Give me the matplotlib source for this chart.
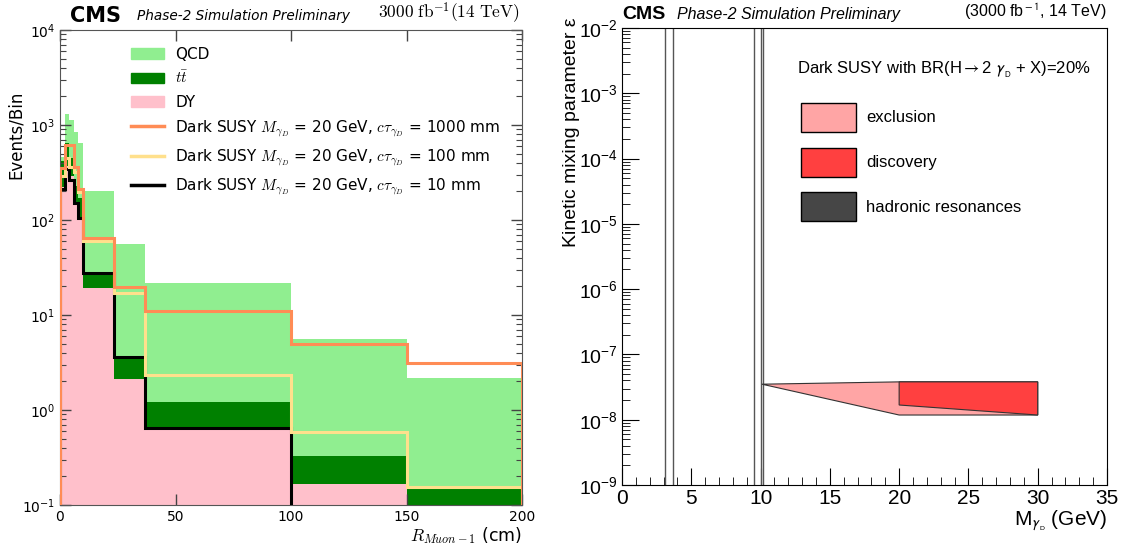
import numpy as np
import matplotlib
matplotlib.use("Agg")
import matplotlib.pyplot as plt
from matplotlib.patches import Patch
from matplotlib.lines import Line2D
from matplotlib.ticker import LogLocator, MultipleLocator, NullFormatter

# ---------------- data: left panel ----------------
edges = [0, 2, 4, 6, 8, 10, 23.5, 37, 100, 150, 200]
dy = [220, 370, 290, 150, 104, 19.1, 2.1, 0.64, 0.165, 0.0]
ttbar = [200, 270, 160, 80, 66, 8.4, 1.54, 0.58, 0.165, 0.15]
qcd = [40, 666, 679, 619, 471, 175.5, 52.3, 20.4, 5.22, 2.04]
sig_1000mm = [350, 615, 615, 364, 210, 64, 19.6, 11.0, 5.0, 3.1]
sig_100mm = [290, 450, 361, 320, 197, 60, 17.2, 2.33, 0.59, 0.155]
sig_10mm = [210, 342, 264, 150, 104, 27.5, 3.64, 0.64, 0, 0]
x_ticks_left = [0, 50, 100, 150, 200]

# ---------------- data: right panel ----------------
resonance_masses = [3.1, 3.69, 9.5, 10.0, 10.17]
excl_x = [10.1, 20, 30, 30, 20]
excl_y = [3.5e-8, 3.8e-8, 3.8e-8, 1.18e-8, 1.18e-8]
disc_x = [20, 30, 30, 20]
disc_y = [3.8e-8, 3.8e-8, 1.18e-8, 1.68e-8]
x_ticks_right = [0, 5, 10, 15, 20, 25, 30, 35]

C_QCD = "#90EE90"
C_TT = "#008000"
C_DY = "#FFC0CB"
C_1000 = "#FF8C55"
C_100 = "#FFE08C"
C_10 = "#000000"
C_EXCL = "#FFA5A5"
C_DISC = "#FF4040"
C_HAD = "#464646"

fig = plt.figure(figsize=(11.31, 5.5), dpi=100)

# ================= LEFT =================
axL = fig.add_axes([60 / 1131, 45 / 550, 462 / 1131, 475 / 550])
e = np.array(edges)
d = np.array(dy)
t = d + np.array(ttbar)
q = t + np.array(qcd)
axL.stairs(d, e, baseline=0, fill=True, color=C_DY, lw=0, zorder=1)
axL.stairs(t, e, baseline=d, fill=True, color=C_TT, lw=0, zorder=1)
axL.stairs(q, e, baseline=t, fill=True, color=C_QCD, lw=0, zorder=1)
axL.stairs(np.array(sig_10mm, float), e, baseline=0, color=C_10, lw=2.2, zorder=3)
axL.stairs(np.array(sig_100mm, float), e, baseline=0, color=C_100, lw=2.2, zorder=4)
axL.stairs(np.array(sig_1000mm, float), e, baseline=0, color=C_1000, lw=2.2, zorder=5)

axL.set_yscale("log")
axL.set_xlim(0, 200)
axL.set_ylim(0.1, 1e4)
axL.set_xticks(x_ticks_left)
axL.tick_params(which="both", direction="in", top=True, right=True, labelsize=10, colors="#444444", labelcolor="black")
axL.tick_params(which="major", length=8, width=1)
axL.tick_params(which="minor", length=4, width=0.8)
axL.yaxis.set_minor_locator(LogLocator(base=10, subs=np.arange(2, 10)))
axL.yaxis.set_minor_formatter(NullFormatter())
for s in axL.spines.values():
    s.set_color("#555555")
axL.set_ylabel("Events/Bin", fontsize=12)
axL.yaxis.set_label_coords(-0.075, 0.78)
axL.set_xlabel(r"$R_{Muon-1}$ (cm)", fontsize=12.5, loc="right", labelpad=1, math_fontfamily="cm")

handles = [
    Patch(color=C_QCD), Patch(color=C_TT), Patch(color=C_DY),
    Line2D([], [], color=C_1000, lw=2.5), Line2D([], [], color=C_100, lw=2.5), Line2D([], [], color=C_10, lw=2.5),
]
labels = ["QCD", r"$t\bar{t}$", "DY",
          r"Dark SUSY $M_{\gamma_D}$ = 20 GeV, $c\tau_{\gamma_D}$ = 1000 mm",
          r"Dark SUSY $M_{\gamma_D}$ = 20 GeV, $c\tau_{\gamma_D}$ = 100 mm",
          r"Dark SUSY $M_{\gamma_D}$ = 20 GeV, $c\tau_{\gamma_D}$ = 10 mm"]
leg = axL.legend(handles, labels, loc="upper left", bbox_to_anchor=(0.14, 0.978), frameon=False,
                 fontsize=11, handlelength=2.2, handletextpad=0.7, labelspacing=0.55, borderaxespad=0)
for tx in leg.get_texts():
    tx.set_math_fontfamily("cm")

axL.text(0.022, 1.008, "CMS", transform=axL.transAxes, fontsize=15, fontweight="bold", va="bottom")
axL.text(0.167, 1.014, "Phase-2 Simulation Preliminary", transform=axL.transAxes, fontsize=9.8,
         style="italic", va="bottom")
axL.text(0.995, 1.01, r"$3000\ \mathrm{fb}^{-1}(14\ \mathrm{TeV})$", transform=axL.transAxes, fontsize=12.5,
         ha="right", va="bottom", math_fontfamily="cm")

# ================= RIGHT =================
SANS = "Liberation Sans"
axR = fig.add_axes([622 / 1131, 65 / 550, 485 / 1131, 457 / 550])
for m in resonance_masses:
    axR.axvline(m, color="#555555", lw=1.0, zorder=2)
axR.fill(excl_x, excl_y, facecolor=C_EXCL, edgecolor="#333333", lw=0.8, zorder=3)
axR.fill(disc_x, disc_y, facecolor=C_DISC, edgecolor="#333333", lw=0.8, zorder=4)

axR.set_yscale("log")
axR.set_xlim(0, 35)
axR.set_ylim(1e-9, 1e-2)
axR.set_xticks(x_ticks_right)
axR.xaxis.set_minor_locator(MultipleLocator(1))
axR.yaxis.set_minor_locator(LogLocator(base=10, subs=np.arange(2, 10)))
axR.yaxis.set_minor_formatter(NullFormatter())
axR.tick_params(which="both", direction="in", top=False, right=False, labelfontfamily=SANS)
axR.tick_params(axis="x", which="major", length=12, labelsize=15, pad=3)
axR.tick_params(axis="x", which="minor", length=6)
axR.tick_params(axis="y", which="major", length=12, labelsize=14, pad=3)
axR.tick_params(axis="y", which="minor", length=6)
for s in axR.spines.values():
    s.set_color("black")

axR.set_ylabel("Kinetic mixing parameter ε", fontsize=14, loc="top", family=SANS)
axR.yaxis.set_label_coords(-0.087, 1.022)
axR.set_xlabel(r"M$_{\gamma_{_{\rm D}}}$ (GeV)", fontsize=15, loc="right", family=SANS, labelpad=0,
               math_fontfamily="stixsans")

axR.text(0.361, 0.908, r"Dark SUSY with BR(H$\rightarrow$2 $\gamma_{_{\rm D}}$ + X)=20%", transform=axR.transAxes,
         fontsize=12, family=SANS, math_fontfamily="stixsans", va="center")
hR = [Patch(facecolor=C_EXCL, edgecolor="black"), Patch(facecolor=C_DISC, edgecolor="black"),
      Patch(facecolor=C_HAD, edgecolor="black")]
axR.legend(hR, ["exclusion", "discovery", "hadronic resonances"], loc="upper left",
           bbox_to_anchor=(0.355, 0.851), frameon=False, prop={"family": SANS, "size": 12},
           handlelength=3.3, handleheight=2.3, handletextpad=0.6, labelspacing=0.95, borderaxespad=0)

axR.text(0.0, 1.01, "CMS", transform=axR.transAxes, fontsize=14, fontweight="bold", family=SANS, va="bottom")
axR.text(0.113, 1.013, "Phase-2 Simulation Preliminary", transform=axR.transAxes, fontsize=11.5,
         style="italic", family=SANS, va="bottom")
axR.text(1.0, 1.013, r"(3000 fb$^{\rm -1}$, 14 TeV)", transform=axR.transAxes, fontsize=11.5,
         family=SANS, ha="right", va="bottom", math_fontfamily="stixsans")

fig.savefig("out.png", dpi=100)
